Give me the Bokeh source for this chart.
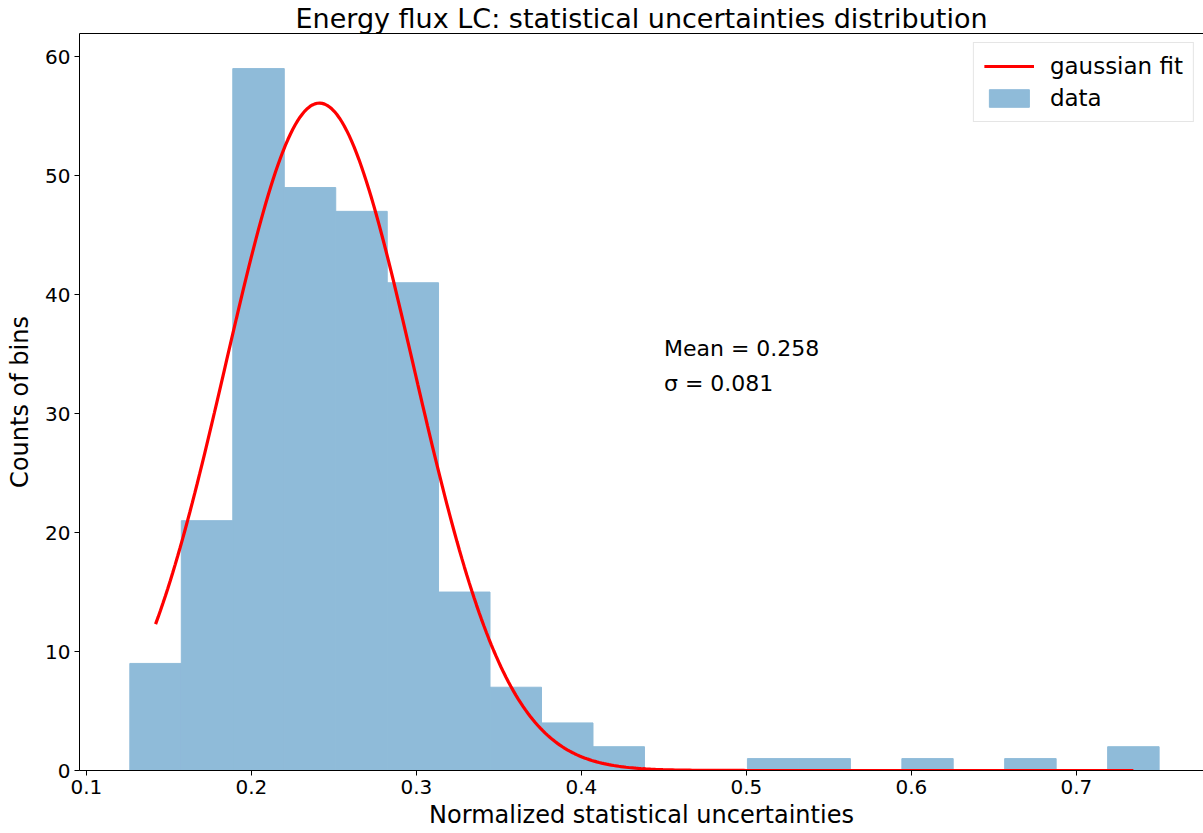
import numpy as np
from bokeh.plotting import figure
from bokeh.models import (Range1d, FixedTicker, LinearAxis, Legend, LegendItem,
                          ColumnDataSource, Title)
from bokeh.core.properties import value
from bokeh.embed import file_html
from bokeh.resources import INLINE

# ---- data ----
bin_edges = [0.1263, 0.1575, 0.1887, 0.2199, 0.2511, 0.2823, 0.3134, 0.3446,
             0.3758, 0.4070, 0.4382, 0.4694, 0.5006, 0.5318, 0.5630, 0.5942,
             0.6253, 0.6565, 0.6877, 0.7189, 0.7501]
counts = [9, 21, 59, 49, 47, 41, 15, 7, 4, 2, 0, 0, 1, 1, 0, 1, 0, 1, 0, 2]

# gaussian fit parameters (as drawn)
fit_amp = 56.1
fit_mu = 0.2412
fit_sigma = 0.057
fit_x_start = 0.1419
fit_x_end = 0.7345

note_x = [0.45, 0.45]
note_y = [35.5, 32.5]
note_text = ["Mean = 0.258", "σ = 0.081"]

x_ticks = [0.1, 0.2, 0.3, 0.4, 0.5, 0.6, 0.7]
y_ticks = [0, 10, 20, 30, 40, 50, 60]

FONT = "DejaVu Sans"
BAR = "#8fbbd9"

hist_src = ColumnDataSource(dict(left=bin_edges[:-1], right=bin_edges[1:],
                                 top=counts, bottom=[0] * len(counts)))
fx = np.linspace(fit_x_start, fit_x_end, 400)
fy = fit_amp * np.exp(-(fx - fit_mu) ** 2 / (2 * fit_sigma ** 2))

p = figure(width=1203, height=833, output_backend="svg", toolbar_location=None,
           x_range=Range1d(0.0958, 0.777), y_range=Range1d(0, 61.95),
           min_border_left=79, min_border_right=0, min_border_top=0,
           min_border_bottom=63)
p.outline_line_color = None
p.background_fill_color = "white"
p.border_fill_color = "white"
p.xgrid.visible = False
p.ygrid.visible = False

xa = p.below[0]
ya = p.left[0]

# top spine (closest to frame), then title
top_spine = LinearAxis(ticker=FixedTicker(ticks=[]), major_label_text_font_size="0px",
                       axis_line_color="black", major_tick_line_color=None,
                       minor_tick_line_color=None, major_tick_out=0,
                       major_label_standoff=0)
p.add_layout(top_spine, "above")

title = Title(text="Energy flux LC: statistical uncertainties distribution",
              text_font=FONT, text_font_size="27px", text_font_style="normal",
              text_color="black", align="center", standoff=0)
p.add_layout(title, "above")

bars = p.quad(left="left", right="right", top="top", bottom="bottom",
              source=hist_src, fill_color=BAR, fill_alpha=1.0,
              line_color=BAR, line_width=1)
fit_line = p.line(fx, fy, line_color="red", line_width=3.2)

p.text(x=note_x, y=note_y, text=note_text, text_font=value(FONT),
       text_font_size="22px", text_baseline="alphabetic", text_align="left",
       text_color="black")

for ax in (xa, ya):
    ax.axis_line_color = "black"
    ax.axis_line_width = 1
    ax.major_tick_line_color = "black"
    ax.major_tick_out = 5
    ax.major_tick_in = 0
    ax.minor_tick_line_color = None
    ax.major_label_text_font = FONT
    ax.major_label_text_font_size = "20px"
    ax.major_label_text_color = "black"
    ax.axis_label_text_font = FONT
    ax.axis_label_text_font_size = "24px"
    ax.axis_label_text_font_style = "normal"
    ax.axis_label_text_color = "black"

xa.ticker = FixedTicker(ticks=x_ticks)
ya.ticker = FixedTicker(ticks=y_ticks)
xa.axis_label = "Normalized statistical uncertainties"
ya.axis_label = "Counts of bins"
xa.major_label_standoff = 4
ya.major_label_standoff = 4
xa.axis_label_standoff = 4
ya.axis_label_standoff = 8

legend = Legend(items=[LegendItem(label="gaussian fit", renderers=[fit_line]),
                       LegendItem(label="data", renderers=[bars])],
                location="top_right", margin=9, padding=10, spacing=6,
                glyph_width=50, glyph_height=22, label_standoff=16,
                label_text_font=FONT, label_text_font_size="23px",
                label_text_color="black", border_line_color="#cccccc",
                border_line_width=1.5, background_fill_alpha=0.8)
p.add_layout(legend)

open("out.html", "w").write(file_html(p, INLINE))
